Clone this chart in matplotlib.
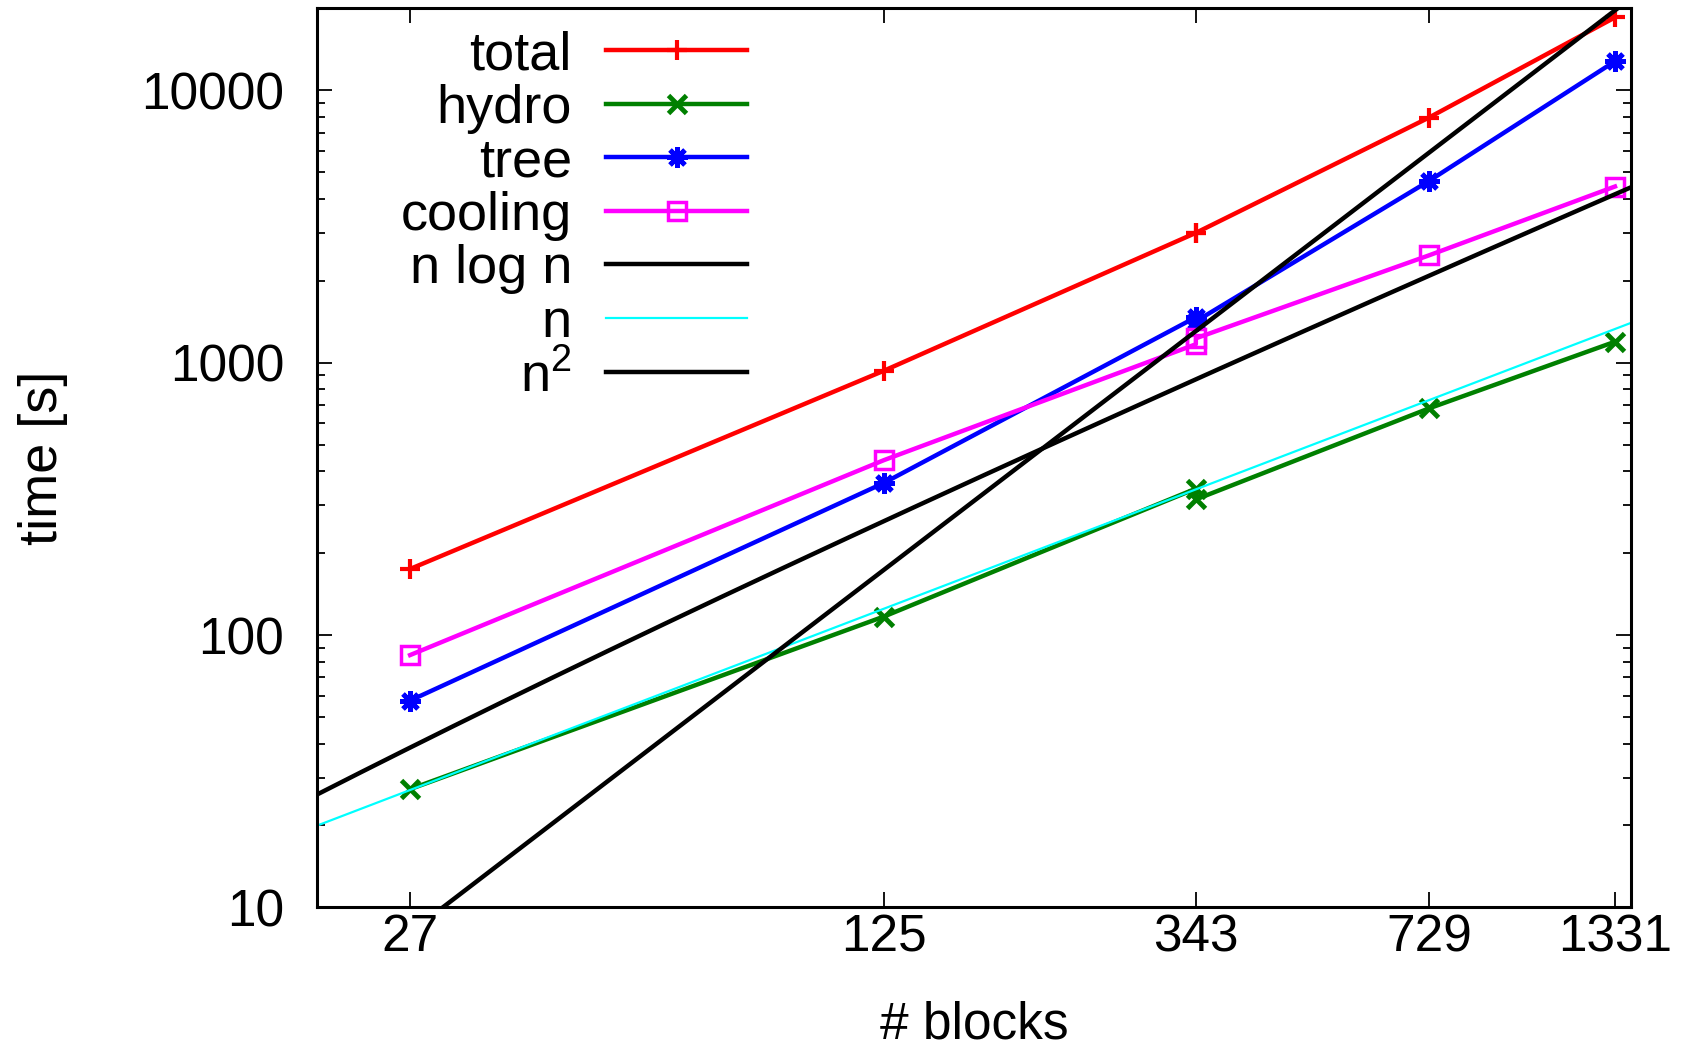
import numpy as np
import matplotlib
matplotlib.use('Agg')
import matplotlib.pyplot as plt
from matplotlib.ticker import LogLocator, NullLocator, NullFormatter

plt.rcParams['font.family'] = ['Liberation Sans', 'DejaVu Sans']
plt.rcParams['mathtext.fontset'] = 'custom'
plt.rcParams['mathtext.rm'] = 'Liberation Sans'
plt.rcParams['mathtext.it'] = 'Liberation Sans'
plt.rcParams['font.size'] = 38

blocks = [27, 125, 343, 343, 729, 1331]
total = [175, 935, 3000, 3000, 7950, 18550]
hydro = [27.2, 117, 345, 315, 680, 1195]
tree = [57.5, 362, 1470, 1420, 4650, 12800]
cooling = [84.5, 439, 1170, 1230, 2480, 4440]

xticks = [27, 125, 343, 729, 1331]
yticks = [10, 100, 1000, 10000]
xlim = (20, 1400)
ylim = (10, 20000)
n2_scale = 1 / 90.  # n^2 reference curve offset

# reference scaling curves
n = np.geomspace(xlim[0], xlim[1], 300)

fig = plt.figure(figsize=(16.88, 10.62), dpi=100)
ax = fig.add_axes([0.188, 0.1455, 0.778, 0.8465])

ax.plot(blocks, total, color='#ff0000', lw=3.2, marker='+', ms=15, mew=3, label='total')
ax.plot(blocks, hydro, color='#008000', lw=3.2, marker='x', ms=13, mew=3.5, label='hydro')
ax.plot(blocks, tree, color='#0000ff', lw=3.2, marker=(8, 2, 0), ms=15, mew=3.5, label='tree')
ax.plot(blocks, cooling, color='#ff00ff', lw=3.2, marker='s', ms=13, mew=2.5, mfc='none', label='cooling')
ax.plot(n, n * np.log10(n), color='black', lw=3.2, label='n log n')
ax.plot(n, n, color='#00ffff', lw=1.6, label='n')
ax.plot(n, n ** 2 * n2_scale, color='black', lw=3.2, label='n$^2$')

ax.set_xscale('log')
ax.set_yscale('log')
ax.set_xlim(*xlim)
ax.set_ylim(*ylim)

ax.set_xticks(xticks)
ax.set_xticklabels([str(v) for v in xticks])
ax.xaxis.set_minor_locator(NullLocator())
ax.set_yticks(yticks)
ax.set_yticklabels([str(v) for v in yticks])
ax.yaxis.set_minor_locator(LogLocator(base=10, subs=np.arange(2, 10)))
ax.yaxis.set_minor_formatter(NullFormatter())

ax.tick_params(which='both', direction='in', top=True, right=True, width=1.3, labelsize=37)
ax.tick_params(which='major', length=11)
ax.tick_params(which='minor', length=6)
ax.tick_params(axis='x', pad=4)
ax.tick_params(axis='y', pad=24)
for s in ax.spines.values():
    s.set_linewidth(2.2)

ax.set_xlabel('# blocks', fontsize=37)
ax.set_ylabel('time [s]', fontsize=39)
ax.xaxis.set_label_coords(0.5, -0.104)
ax.yaxis.set_label_coords(-0.19, 0.5)

leg = ax.legend(loc='upper left', bbox_to_anchor=(0.0635, 0.976), frameon=False,
                markerfirst=False, handlelength=2.6, handletextpad=0.63,
                labelspacing=0.065, borderpad=0, borderaxespad=0, fontsize=39)

fig.savefig('out.png', dpi=100)
